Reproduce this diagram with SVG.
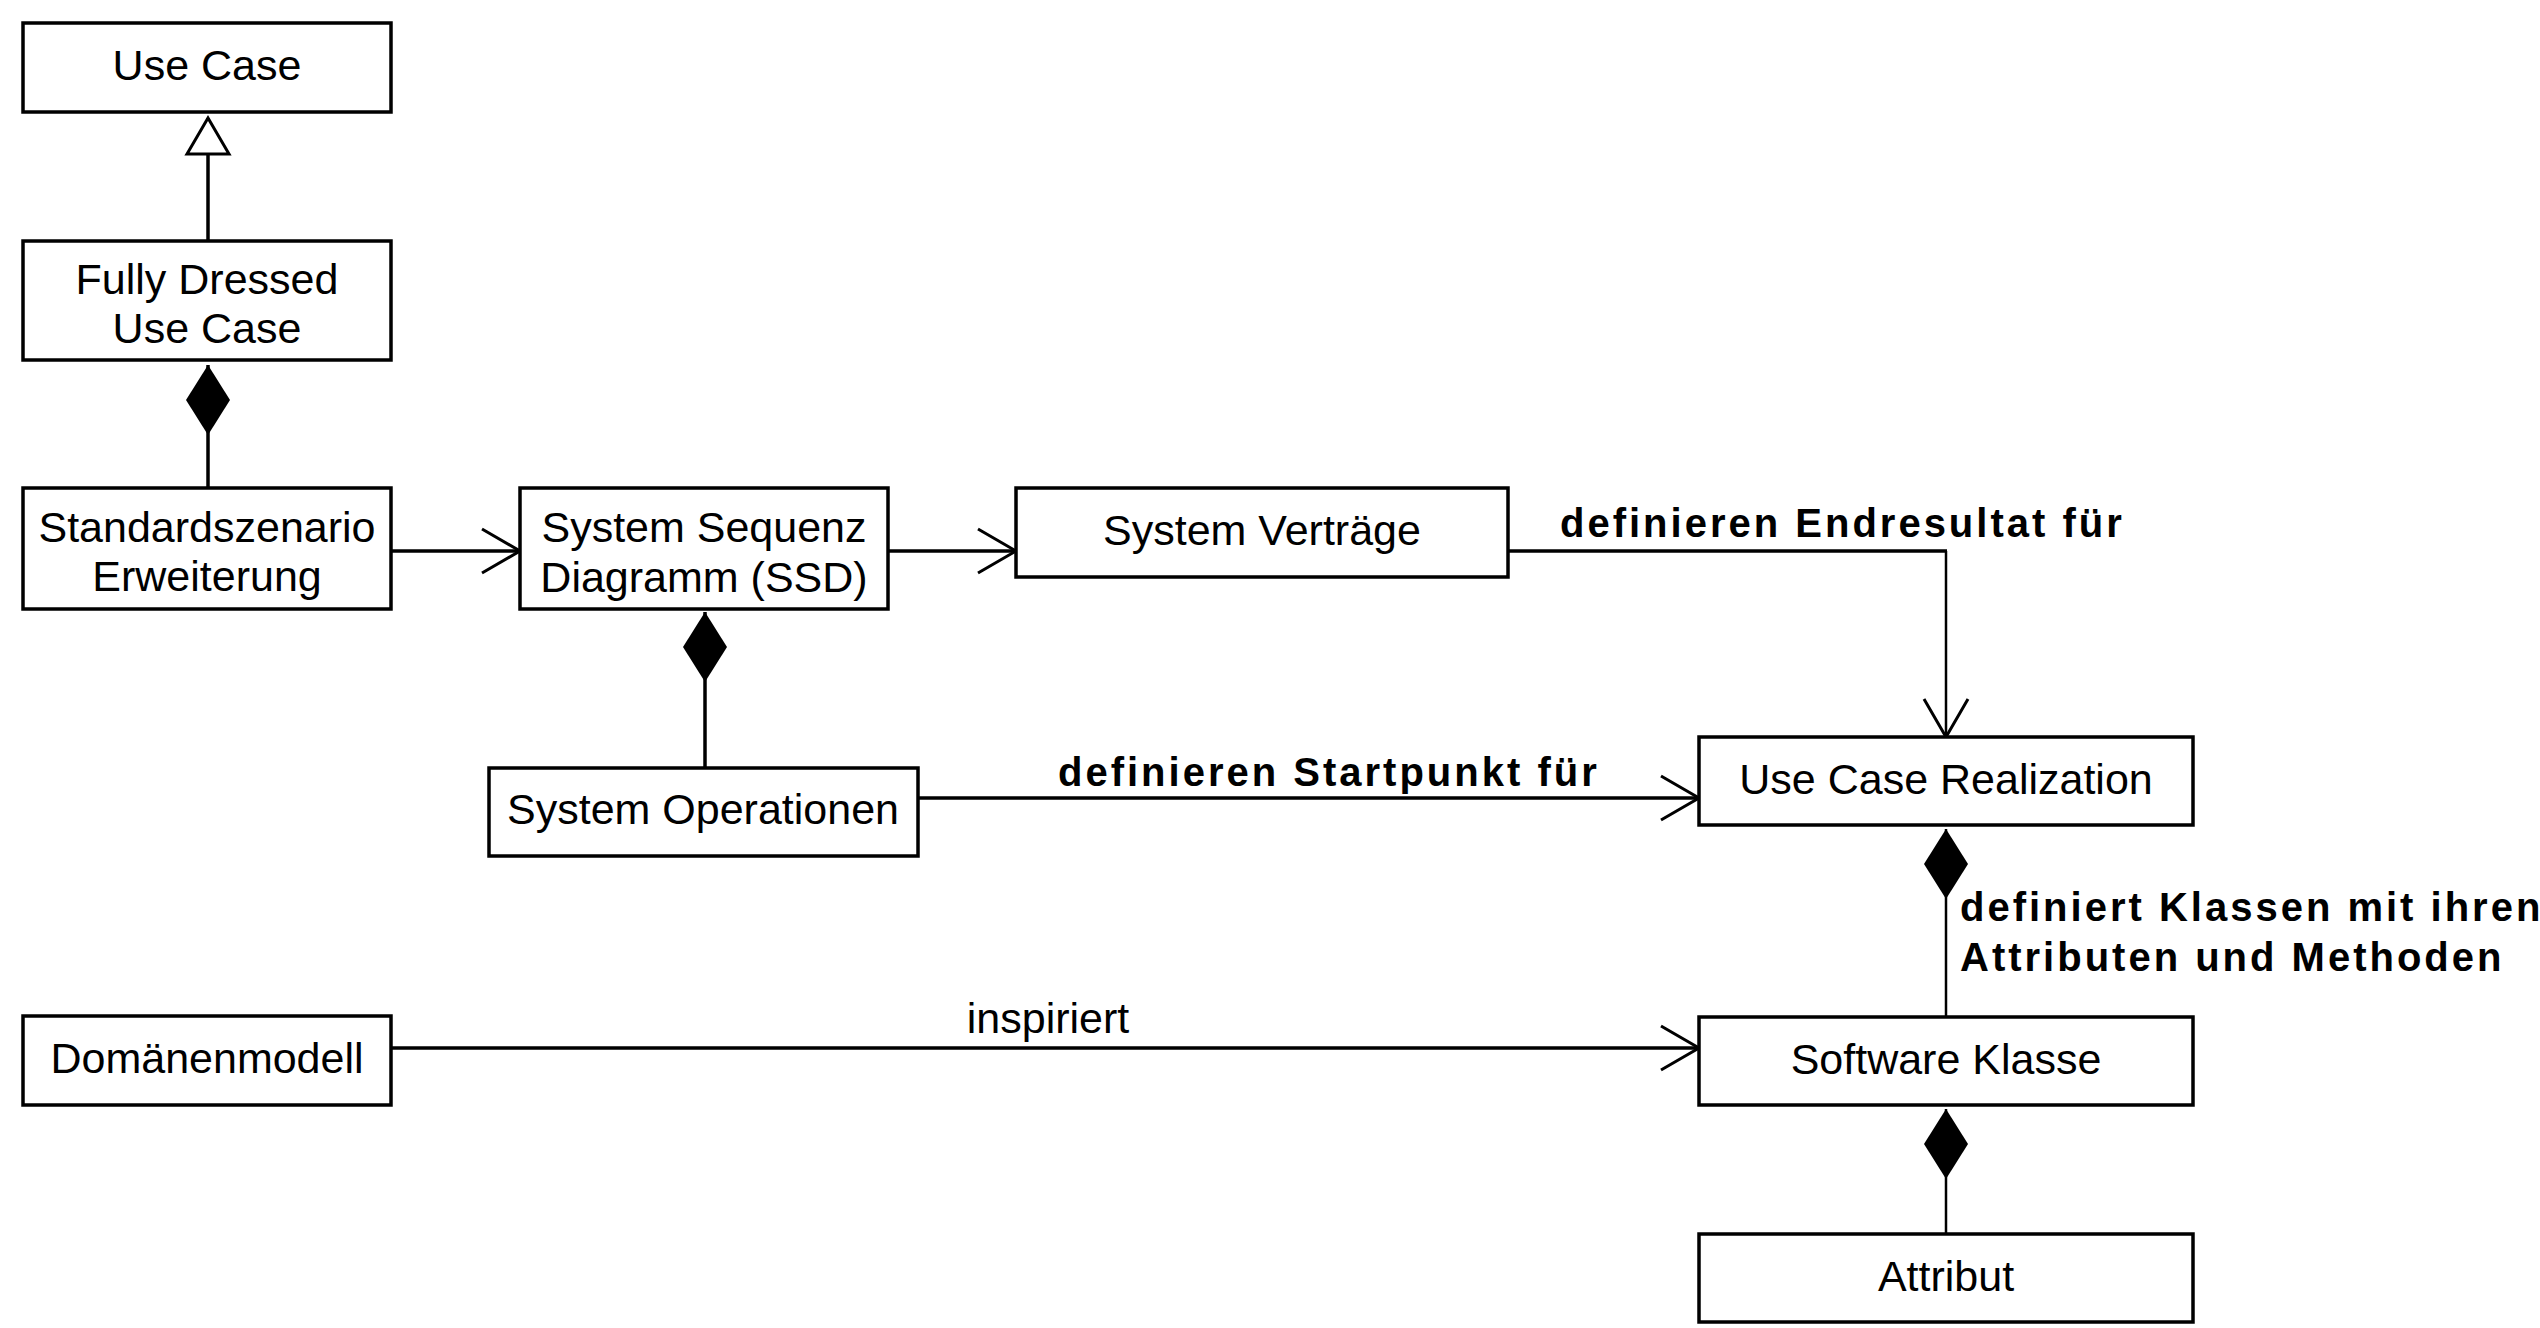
<svg xmlns="http://www.w3.org/2000/svg" width="2540" height="1328" viewBox="0 0 2540 1328">
<style>
.box{fill:#fff;stroke:#000;stroke-width:3.5}
.t{font-family:"Liberation Sans",Arial,sans-serif;font-size:43px;fill:#000;text-anchor:middle}
.lbl{font-family:"Liberation Sans",Arial,sans-serif;font-size:40px;font-weight:bold;letter-spacing:3px;fill:#000}
.lbln{font-family:"Liberation Sans",Arial,sans-serif;font-size:43px;fill:#000;text-anchor:middle}
.c{fill:none;stroke:#000;stroke-width:3.5}
.thin{fill:none;stroke:#000;stroke-width:2.5}
</style>
<defs>
<marker id="open" markerUnits="userSpaceOnUse" viewBox="0 0 42 48" refX="40" refY="24" markerWidth="42" markerHeight="48" orient="auto" overflow="visible">
<path d="M2,2 L40,24 L2,46" fill="none" stroke="#000" stroke-width="3"/>
</marker>
<marker id="dia" markerUnits="userSpaceOnUse" viewBox="0 0 70 44" refX="70" refY="22" markerWidth="70" markerHeight="44" orient="auto" overflow="visible">
<path d="M0,22 L35,0 L70,22 L35,44 Z" fill="#000"/>
</marker>
<marker id="tri" markerUnits="userSpaceOnUse" viewBox="0 0 38 44" refX="37" refY="22" markerWidth="38" markerHeight="44" orient="auto" overflow="visible">
<path d="M1,1 L37,22 L1,43 Z" fill="#fff" stroke="#000" stroke-width="3"/>
</marker>
</defs>

<g id="connectors">
<line class="c" x1="208" y1="241" x2="208" y2="118" marker-end="url(#tri)"/>
<line class="c" x1="208" y1="488" x2="208" y2="365" marker-end="url(#dia)"/>
<line class="c" x1="391" y1="551" x2="520" y2="551" marker-end="url(#open)"/>
<line class="c" x1="888" y1="551" x2="1016" y2="551" marker-end="url(#open)"/>
<line class="c" x1="1508" y1="551" x2="1947" y2="551"/>
<line class="thin" x1="1946" y1="551" x2="1946" y2="737" marker-end="url(#open)"/>
<line class="c" x1="705" y1="768" x2="705" y2="612" marker-end="url(#dia)"/>
<line class="c" x1="918" y1="798" x2="1699" y2="798" marker-end="url(#open)"/>
<line class="thin" x1="1946" y1="1017" x2="1946" y2="829" marker-end="url(#dia)"/>
<line class="c" x1="391" y1="1048" x2="1699" y2="1048" marker-end="url(#open)"/>
<line class="thin" x1="1946" y1="1234" x2="1946" y2="1109" marker-end="url(#dia)"/>
<text class="lbl" x="1560" y="537">definieren Endresultat für</text>
<text class="lbl" x="1058" y="786">definieren Startpunkt für</text>
<text class="lbl" x="1960" y="921">definiert Klassen mit ihren</text>
<text class="lbl" x="1960" y="971">Attributen und Methoden</text>
<text class="lbln" x="1048" y="1033">inspiriert</text>
</g>

<g id="use-case">
<rect class="box" x="23" y="23" width="368" height="89"/>
<text class="t" x="207" y="80">Use Case</text>
</g>
<g id="fully-dressed">
<rect class="box" x="23" y="241" width="368" height="119"/>
<text class="t" x="207" y="294">Fully Dressed</text>
<text class="t" x="207" y="343">Use Case</text>
</g>
<g id="standardszenario">
<rect class="box" x="23" y="488" width="368" height="121"/>
<text class="t" x="207" y="542">Standardszenario</text>
<text class="t" x="207" y="591">Erweiterung</text>
</g>
<g id="ssd">
<rect class="box" x="520" y="488" width="368" height="121"/>
<text class="t" x="704" y="542">System Sequenz</text>
<text class="t" x="704" y="592">Diagramm (SSD)</text>
</g>
<g id="system-vertraege">
<rect class="box" x="1016" y="488" width="492" height="89"/>
<text class="t" x="1262" y="545">System Verträge</text>
</g>
<g id="system-operationen">
<rect class="box" x="489" y="768" width="429" height="88"/>
<text class="t" x="703" y="824">System Operationen</text>
</g>
<g id="use-case-realization">
<rect class="box" x="1699" y="737" width="494" height="88"/>
<text class="t" x="1946" y="794">Use Case Realization</text>
</g>
<g id="domaenenmodell">
<rect class="box" x="23" y="1016" width="368" height="89"/>
<text class="t" x="207" y="1073">Domänenmodell</text>
</g>
<g id="software-klasse">
<rect class="box" x="1699" y="1017" width="494" height="88"/>
<text class="t" x="1946" y="1074">Software Klasse</text>
</g>
<g id="attribut">
<rect class="box" x="1699" y="1234" width="494" height="88"/>
<text class="t" x="1946" y="1291">Attribut</text>
</g>
</svg>
